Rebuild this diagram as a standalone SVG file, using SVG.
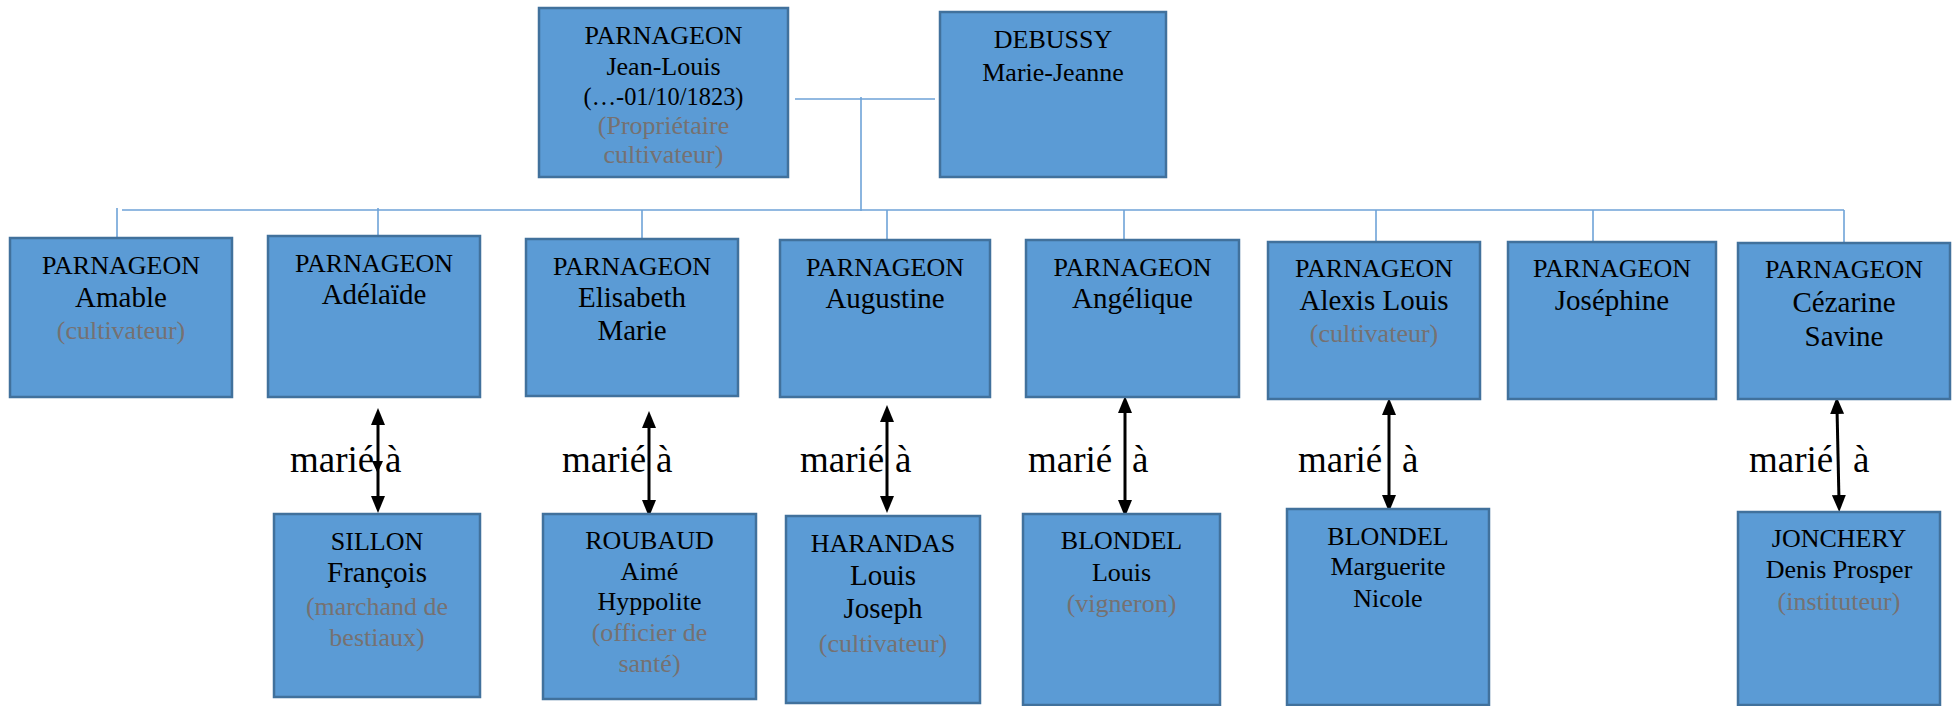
<svg xmlns="http://www.w3.org/2000/svg" width="1959" height="706" viewBox="0 0 1959 706" font-family="'Liberation Serif', 'DejaVu Serif', 'Noto Serif', Tinos, 'Times New Roman', serif">
<style>
.box{fill:#5B9BD5;stroke:#41719C;stroke-width:2.5}
text{font-family:'Liberation Serif','DejaVu Serif','Noto Serif',Tinos,'Times New Roman',serif;text-anchor:middle;fill:#000}
.n{font-size:26px}
.g{font-size:29px}
.p{font-size:26px;fill:#767171}
.conn{stroke:#6FA3D8;stroke-width:1.6;fill:none}
.arr{stroke:#000;stroke-width:3;fill:none;marker-start:url(#ah);marker-end:url(#ah)}
.m{font-size:37px;text-anchor:start}
</style>
<defs>
<marker id="ah" viewBox="0 0 17 14" refX="6" refY="7" markerWidth="17" markerHeight="14" markerUnits="userSpaceOnUse" orient="auto-start-reverse">
<path d="M0,0 L17,7 L0,14 z" fill="#000"/>
</marker>
</defs>
<rect width="1959" height="706" fill="#fff"/>

<g id="connectors">
<path class="conn" d="M795,99 H935 M861,97 V211 M122,210 H1844"/>
<path class="conn" d="M117,208 V238 M378,208 V236 M642,210 V239 M887,210 V240 M1124,210 V240 M1376,210 V242 M1593,210 V242 M1844,210 V242"/>
<line class="arr" x1="378" y1="419" x2="378" y2="502"/>
<polygon points="372,461 383,461 377.5,473" fill="#000"/>
<line class="arr" x1="649" y1="422" x2="649" y2="506"/>
<line class="arr" x1="887" y1="416" x2="887" y2="502"/>
<line class="arr" x1="1125" y1="407" x2="1125" y2="506"/>
<line class="arr" x1="1389" y1="409" x2="1389" y2="501"/>
<line class="arr" x1="1837" y1="408" x2="1839" y2="501"/>
<text class="m" y="472"><tspan x="290">marié</tspan><tspan x="385">à</tspan></text>
<text class="m" y="472"><tspan x="562">marié</tspan><tspan x="656">à</tspan></text>
<text class="m" y="472"><tspan x="800">marié</tspan><tspan x="895">à</tspan></text>
<text class="m" y="472"><tspan x="1028">marié</tspan><tspan x="1132">à</tspan></text>
<text class="m" y="472"><tspan x="1298">marié</tspan><tspan x="1402">à</tspan></text>
<text class="m" y="472"><tspan x="1749">marié</tspan><tspan x="1853">à</tspan></text>
</g>

<g id="p-jeanlouis">
<rect class="box" x="539" y="8" width="249" height="169"/>
<text class="n" x="663.5" y="44">PARNAGEON</text>
<text class="n" x="663.5" y="75">Jean-Louis</text>
<text class="n" x="663.5" y="105" textLength="160" lengthAdjust="spacingAndGlyphs">(…-01/10/1823)</text>
<text class="p" x="663.5" y="134">(Propriétaire</text>
<text class="p" x="663.5" y="163">cultivateur)</text>
</g>

<g id="p-debussy">
<rect class="box" x="940" y="12" width="226" height="165"/>
<text class="n" x="1053" y="48">DEBUSSY</text>
<text class="n" x="1053" y="81">Marie-Jeanne</text>
</g>

<g id="c-amable">
<rect class="box" x="10" y="238" width="222" height="159"/>
<text class="n" x="121" y="274">PARNAGEON</text>
<text class="g" x="121" y="307">Amable</text>
<text class="p" x="121" y="339">(cultivateur)</text>
</g>

<g id="c-adelaide">
<rect class="box" x="268" y="236" width="212" height="161"/>
<text class="n" x="374" y="272">PARNAGEON</text>
<text class="g" x="374" y="304">Adélaïde</text>
</g>

<g id="c-elisabeth">
<rect class="box" x="526" y="239" width="212" height="157"/>
<text class="n" x="632" y="275">PARNAGEON</text>
<text class="g" x="632" y="307">Elisabeth</text>
<text class="g" x="632" y="340">Marie</text>
</g>

<g id="c-augustine">
<rect class="box" x="780" y="240" width="210" height="157"/>
<text class="n" x="885" y="276">PARNAGEON</text>
<text class="g" x="885" y="308">Augustine</text>
</g>

<g id="c-angelique">
<rect class="box" x="1026" y="240" width="213" height="157"/>
<text class="n" x="1132.5" y="276">PARNAGEON</text>
<text class="g" x="1132.5" y="308">Angélique</text>
</g>

<g id="c-alexis">
<rect class="box" x="1268" y="242" width="212" height="157"/>
<text class="n" x="1374" y="277">PARNAGEON</text>
<text class="g" x="1374" y="310">Alexis Louis</text>
<text class="p" x="1374" y="342">(cultivateur)</text>
</g>

<g id="c-josephine">
<rect class="box" x="1508" y="242" width="208" height="157"/>
<text class="n" x="1612" y="277">PARNAGEON</text>
<text class="g" x="1612" y="310">Joséphine</text>
</g>

<g id="c-cezarine">
<rect class="box" x="1738" y="243" width="212" height="156"/>
<text class="n" x="1844" y="278">PARNAGEON</text>
<text class="g" x="1844" y="312">Cézarine</text>
<text class="g" x="1844" y="346">Savine</text>
</g>

<g id="s-sillon">
<rect class="box" x="274" y="514" width="206" height="183"/>
<text class="n" x="377" y="550">SILLON</text>
<text class="g" x="377" y="582">François</text>
<text class="p" x="377" y="615">(marchand de</text>
<text class="p" x="377" y="646">bestiaux)</text>
</g>

<g id="s-roubaud">
<rect class="box" x="543" y="514" width="213" height="185"/>
<text class="n" x="649.5" y="549">ROUBAUD</text>
<text class="n" x="649.5" y="580">Aimé</text>
<text class="n" x="649.5" y="610">Hyppolite</text>
<text class="p" x="649.5" y="641">(officier de</text>
<text class="p" x="649.5" y="672">santé)</text>
</g>

<g id="s-harandas">
<rect class="box" x="786" y="516" width="194" height="187"/>
<text class="n" x="883" y="552">HARANDAS</text>
<text class="g" x="883" y="585">Louis</text>
<text class="g" x="883" y="618">Joseph</text>
<text class="p" x="883" y="652">(cultivateur)</text>
</g>

<g id="s-blondel-louis">
<rect class="box" x="1023" y="514" width="197" height="191"/>
<text class="n" x="1121.5" y="549">BLONDEL</text>
<text class="n" x="1121.5" y="581">Louis</text>
<text class="p" x="1121.5" y="612">(vigneron)</text>
</g>

<g id="s-blondel-marguerite">
<rect class="box" x="1287" y="509" width="202" height="196"/>
<text class="n" x="1388" y="545">BLONDEL</text>
<text class="n" x="1388" y="575">Marguerite</text>
<text class="n" x="1388" y="607">Nicole</text>
</g>

<g id="s-jonchery">
<rect class="box" x="1738" y="512" width="202" height="193"/>
<text class="n" x="1839" y="547">JONCHERY</text>
<text class="n" x="1839" y="578">Denis Prosper</text>
<text class="p" x="1839" y="610">(instituteur)</text>
</g>
</svg>
